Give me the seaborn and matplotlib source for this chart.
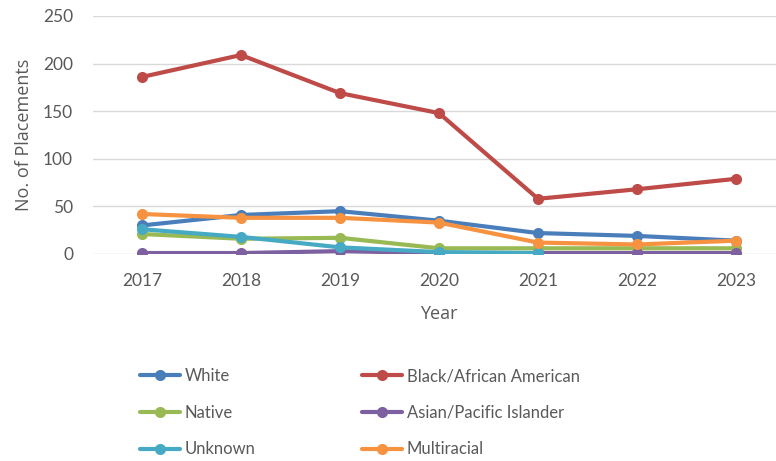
import numpy as np
import pandas as pd
import matplotlib
matplotlib.use("Agg")
import matplotlib.pyplot as plt
import seaborn as sns

years = [2017, 2018, 2019, 2020, 2021, 2022, 2023]
white = [30, 41, 45, 35, 22, 19, 14]
black = [186, 209, 169, 148, 58, 68, 79]
native = [21, 16, 17, 6, 6, 6, 6]
asian = [1, 1, 3, 1, 1, 1, 1]
unknown = [26, 18, 7, 2, 1, np.nan, np.nan]
multiracial = [42, 38, 38, 33, 12, 10, 14]

series_names = ["White", "Black/African American", "Native",
                "Asian/Pacific Islander", "Unknown", "Multiracial"]
series_values = [white, black, native, asian, unknown, multiracial]
colors = ["#4A7EBB", "#BE4B48", "#98B954", "#7D60A0", "#46AAC5", "#F69240"]
y_ticks = [0, 50, 100, 150, 200, 250]

rows = []
for name, vals in zip(series_names, series_values):
    for i, v in enumerate(vals):
        rows.append({"pos": i, "Year": years[i], "Race": name, "value": v})
df = pd.DataFrame(rows)

sns.set_theme(style="white")
plt.rcParams["font.family"] = ["Lato", "DejaVu Sans"]
text_color = "#595959"

fig = plt.figure(figsize=(7.76, 4.61), dpi=100)
ax = fig.add_axes([92.5 / 776, 1 - 254 / 461, 693 / 776, 238 / 461])

palette = dict(zip(series_names, colors))
sns.lineplot(data=df, x="pos", y="value", hue="Race", hue_order=series_names,
             palette=palette, marker="o", markersize=8, markeredgewidth=0,
             linewidth=3, ax=ax, legend=False, sort=False)

ax.set_xlim(-0.5, len(years) - 0.5)
ax.set_ylim(0, 250)
ax.set_xticks(range(len(years)))
ax.set_xticklabels([str(y) for y in years])
ax.set_yticks(y_ticks)
ax.grid(axis="y", color="#D9D9D9", linewidth=1)
ax.set_axisbelow(True)
for s in ax.spines.values():
    s.set_visible(False)
ax.tick_params(axis="both", length=0, labelsize=12.5, colors=text_color)
ax.tick_params(axis="x", pad=14)
ax.tick_params(axis="y", pad=14)
ax.set_xlabel("Year", fontsize=13, color=text_color, family="Open Sans")
ax.set_ylabel("No. of Placements", fontsize=13, color=text_color,
              family="Open Sans")
ax.xaxis.set_label_coords((439 - 92.5) / 693, -(314 - 254) / 238)
ax.xaxis.label.set_va("center")
ax.yaxis.set_label_coords(-(92.5 - 24) / 693, (254 - 135) / 238)
ax.yaxis.label.set_va("center")

# Two legend columns, three rows each
def add_legend(names, x_px):
    hs = [plt.Line2D([], [], color=palette[n], linewidth=3, marker="o",
                     markersize=8, markeredgewidth=0) for n in names]
    return fig.legend(hs, names, loc="upper left",
                      bbox_to_anchor=(x_px / 776, 1 - 368 / 461),
                      frameon=False, fontsize=12, handlelength=2.4,
                      handletextpad=0.3, labelspacing=1.24, borderpad=0,
                      borderaxespad=0, labelcolor=text_color)

add_legend(["White", "Native", "Unknown"], 140)
add_legend(["Black/African American", "Asian/Pacific Islander", "Multiracial"], 362)

fig.savefig("out.png", dpi=100, facecolor="white")
